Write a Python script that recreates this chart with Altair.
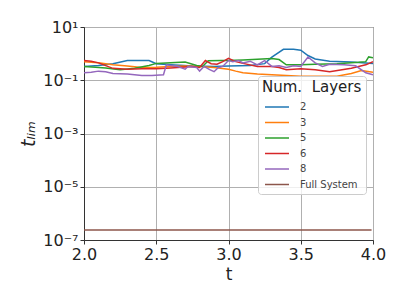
import altair as alt
import pandas as pd

t2 = [2.0, 2.1, 2.2, 2.3, 2.35, 2.45, 2.5, 2.6, 2.75, 2.9, 3.0, 3.15, 3.25, 3.3, 3.38, 3.45, 3.5, 3.55, 3.6, 3.7, 3.85, 4.0]
v2 = [0.33, 0.36, 0.42, 0.55, 0.55, 0.55, 0.42, 0.38, 0.34, 0.33, 0.34, 0.36, 0.42, 0.74, 1.45, 1.45, 1.35, 0.85, 0.63, 0.52, 0.48, 0.43]

t3 = [2.0, 2.1, 2.2, 2.3, 2.4, 2.5, 2.6, 2.7, 2.8, 2.9, 3.0, 3.05, 3.1, 3.2, 3.3, 3.4, 3.5, 3.6, 3.75, 3.85, 3.92, 4.0]
v3 = [0.5, 0.45, 0.38, 0.34, 0.3, 0.31, 0.33, 0.34, 0.33, 0.3, 0.26, 0.22, 0.19, 0.17, 0.16, 0.15, 0.14, 0.14, 0.14, 0.18, 0.23, 0.2]

t5 = [2.0, 2.08, 2.15, 2.25, 2.35, 2.45, 2.5, 2.6, 2.7, 2.78, 2.82, 2.86, 2.95, 3.0, 3.1, 3.2, 3.3, 3.35, 3.4, 3.5, 3.6, 3.75, 3.9, 3.95, 3.97, 4.0]
v5 = [0.33, 0.31, 0.29, 0.25, 0.28, 0.36, 0.43, 0.45, 0.48, 0.36, 0.33, 0.54, 0.55, 0.55, 0.58, 0.62, 0.66, 0.6, 0.38, 0.38, 0.4, 0.42, 0.47, 0.5, 0.75, 0.7]

t6 = [2.0, 2.05, 2.1, 2.2, 2.3, 2.4, 2.5, 2.6, 2.75, 2.8, 2.84, 2.88, 2.92, 2.96, 3.0, 3.05, 3.1, 3.2, 3.3, 3.35, 3.4, 3.5, 3.6, 3.7, 3.85, 3.95, 4.0]
v6 = [0.55, 0.52, 0.45, 0.28, 0.26, 0.27, 0.27, 0.29, 0.33, 0.3, 0.55, 0.42, 0.4, 0.5, 0.66, 0.5, 0.43, 0.33, 0.33, 0.3, 0.25, 0.27, 0.25, 0.21, 0.28, 0.38, 0.5]

t8 = [2.0, 2.05, 2.1, 2.15, 2.2, 2.3, 2.4, 2.47, 2.55, 2.57, 2.6, 2.65, 2.7, 2.72, 2.78, 2.8, 2.83, 2.87, 2.9, 2.93, 2.96, 3.0, 3.03, 3.07, 3.1, 3.15, 3.2, 3.25, 3.3, 3.35, 3.4, 3.45, 3.5, 3.55, 3.6, 3.65, 3.7, 3.8, 3.88, 3.95, 4.0]
v8 = [0.19, 0.2, 0.22, 0.21, 0.18, 0.17, 0.15, 0.15, 0.16, 0.38, 0.36, 0.33, 0.26, 0.33, 0.3, 0.22, 0.33, 0.25, 0.21, 0.3, 0.33, 0.55, 0.5, 0.55, 0.45, 0.52, 0.38, 0.55, 0.33, 0.35, 0.3, 0.35, 0.33, 0.75, 0.45, 0.33, 0.4, 0.38, 0.35, 0.19, 0.16]

tfull = [2.0, 3.99]
vfull = [2.4e-7, 2.4e-7]

labels = ["2", "3", "5", "6", "8", "Full System"]
colors = ["#1f77b4", "#ff7f0e", "#2ca02c", "#d62728", "#9467bd", "#8c564b"]

rows = []
for lab, ts, vs in zip(labels, [t2, t3, t5, t6, t8, tfull], [v2, v3, v5, v6, v8, vfull]):
    for i, (t, v) in enumerate(zip(ts, vs)):
        rows.append({"t": t, "v": v, "layers": lab, "i": i})
df = pd.DataFrame(rows)

ylab = ("datum.value >= 1 ? '10¹' : datum.value >= 0.01 ? '10⁻¹' : "
        "datum.value >= 1e-4 ? '10⁻³' : datum.value >= 1e-6 ? '10⁻⁵' : '10⁻⁷'")

chart = alt.Chart(df).mark_line(strokeWidth=1.5, clip=True).encode(
    x=alt.X("t:Q", scale=alt.Scale(domain=[2, 4], nice=False, zero=False),
            axis=alt.Axis(title="t", values=[2.0, 2.5, 3.0, 3.5, 4.0], format=".1f",
                          labelFontSize=16, titleFontSize=17, titleFontWeight="normal",
                          labelColor="#222", titleColor="#222", titlePadding=4, labelPadding=2,
                          labelFlush=False)),
    y=alt.Y("v:Q", scale=alt.Scale(type="log", domain=[1e-7, 10], nice=False),
            axis=alt.Axis(title="tₗᵢₘ", values=[10, 0.1, 0.001, 1e-5, 1e-7], labelExpr=ylab,
                          labelFontSize=16, titleFontSize=19, titleFontWeight="normal",
                          titleFontStyle="italic", labelColor="#222", titleColor="#222",
                          titlePadding=4, labelPadding=2, labelFlush=False)),
    color=alt.Color("layers:N", sort=labels,
                    scale=alt.Scale(domain=labels, range=colors),
                    legend=alt.Legend(title="Num.\u00a0 Layers", orient="none", legendX=174, legendY=49,
                                      symbolType="M-2,0H2", symbolSize=144, symbolStrokeWidth=1.5,
                                      symbolOffset=8,
                                      titleFontSize=15, titleFontWeight="normal", titleColor="#222",
                                      labelFontSize=10, labelColor="#444", labelOffset=16,
                                      fillColor="rgba(255,255,255,0.8)", strokeColor="#ccc",
                                      cornerRadius=3, padding=4, rowPadding=3.5, titlePadding=5)),
    order="i:Q",
).properties(width=289, height=213, padding={"left": 76, "top": 19, "right": 20, "bottom": 50},
             autosize=alt.AutoSizeParams(type="none")).configure_axis(
    grid=True, gridColor="#b0b0b0", gridWidth=1, domainColor="#333", tickColor="#333",
    tickSize=4, labelFont="DejaVu Sans", titleFont="DejaVu Sans"
).configure_legend(labelFont="DejaVu Sans", titleFont="DejaVu Sans").configure_view(
    stroke="#333", strokeWidth=1)

chart.save("out.html", embed_options={"renderer": "svg", "actions": False})
